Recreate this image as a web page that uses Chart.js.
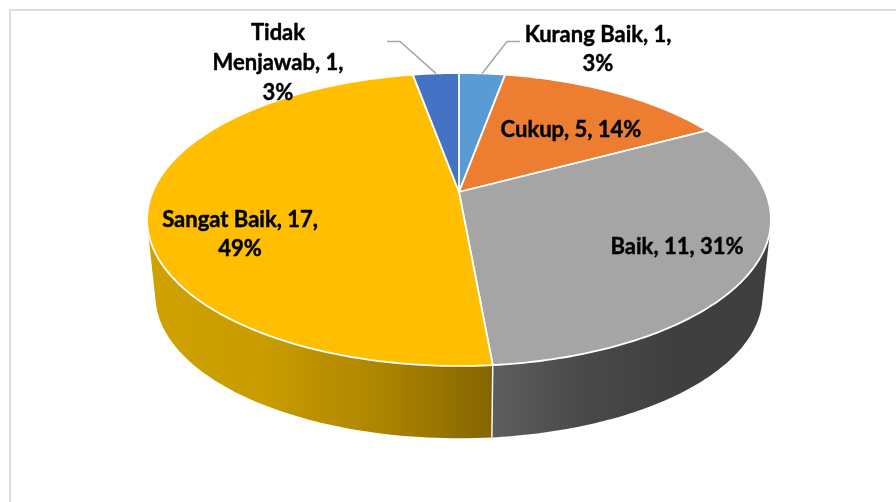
<!DOCTYPE html>
<html>
<head>
<meta charset="utf-8">
<title>Pie</title>
<script src="https://cdn.jsdelivr.net/npm/chart.js@4/dist/chart.umd.js"></script>
<style>
  html, body { margin: 0; padding: 0; background: #fff; }
  canvas { display: block; }
</style>
</head>
<body>
<canvas id="pie" width="896" height="502"></canvas>
<script>
const categories = ['Kurang Baik', 'Cukup', 'Baik', 'Sangat Baik', 'Tidak Menjawab'];
const values = [1, 5, 11, 17, 1];
const percents = [3, 14, 31, 49, 3];
const colours = ['#5B9BD5', '#ED7D31', '#A5A5A5', '#FFBE00', '#4472C4'];

// wall shading, left to right, only the two slices at the front show
const wallColours = {
  2: ['#5e5e5e', '#494949', '#3f3f3f', '#3f3f3f'],
  3: ['#d0a200', '#c99c00', '#ae8600', '#866500']
};

// how each label wraps and where it sits [centre x, first line y, line height]
const labelLines = [
  i => [`${categories[i]}, ${values[i]},`, `${percents[i]}%`],
  i => [`${categories[i]}, ${values[i]}, ${percents[i]}%`],
  i => [`${categories[i]}, ${values[i]}, ${percents[i]}%`],
  i => [`${categories[i]}, ${values[i]},`, `${percents[i]}%`],
  i => [...categories[i].split(' ').map((w, n) => n ? `${w}, ${values[i]},` : w), `${percents[i]}%`]
];
const labelPos = [[598, 35, 29], [571, 129.5, 29], [677, 246.5, 29], [240, 220, 29], [278, 33, 30]];

// tilt of the pie
const kx = 306.4 / 192, ky = 141.3 / 192, persp = 0.1877;
const wallDrop = 77, wallScale = 0.973;

function rim(arc, angle, scale, drop) {
  const r = arc.outerRadius * scale;
  const u = Math.cos(angle), v = -Math.sin(angle);
  const w = 1 + persp * v;
  return { x: arc.x + r * kx * u / w, y: arc.y + drop - r * ky * v / w };
}

function midAngle(arc) {
  return (arc.startAngle + arc.endAngle) / 2;
}

function drawWall(ctx, arc, stops, x0, x1) {
  const steps = 140;
  const a0 = arc.startAngle, a1 = arc.endAngle;
  const g = ctx.createLinearGradient(x0, 0, x1, 0);
  stops.forEach((c, i) => g.addColorStop(i / (stops.length - 1), c));
  ctx.beginPath();
  for (let i = 0; i < steps; i++) {
    const b0 = a0 + (a1 - a0) * i / steps, b1 = a0 + (a1 - a0) * (i + 1) / steps;
    const quad = [rim(arc, b0, 1, 0), rim(arc, b1, 1, 0), rim(arc, b1, wallScale, wallDrop), rim(arc, b0, wallScale, wallDrop)];
    // same winding for all so the strips join up in one fill
    let area = 0;
    quad.forEach((p, n) => {
      const q = quad[(n + 1) % 4];
      area += p.x * q.y - q.x * p.y;
    });
    if (area < 0) quad.reverse();
    quad.forEach((p, n) => n ? ctx.lineTo(p.x, p.y) : ctx.moveTo(p.x, p.y));
    ctx.closePath();
  }
  ctx.fillStyle = g;
  ctx.fill('nonzero');
}

function drawTop(ctx, arc, colour) {
  const steps = 120;
  ctx.beginPath();
  ctx.moveTo(arc.x, arc.y);
  for (let i = 0; i <= steps; i++) {
    const p = rim(arc, arc.startAngle + (arc.endAngle - arc.startAngle) * i / steps, 1, 0);
    ctx.lineTo(p.x, p.y);
  }
  ctx.closePath();
  ctx.fillStyle = colour;
  ctx.fill();
  ctx.strokeStyle = '#ffffff';
  ctx.lineWidth = 1.8;
  ctx.lineJoin = 'round';
  ctx.stroke();
}

const tiltedPie = {
  id: 'tiltedPie',
  beforeDraw(chart) {
    const ctx = chart.ctx;
    ctx.save();
    ctx.fillStyle = '#ffffff';
    ctx.fillRect(0, 0, chart.width, chart.height);
    ctx.strokeStyle = '#dddddd';
    ctx.lineWidth = 2;
    ctx.beginPath();
    ctx.moveTo(10, chart.height);
    ctx.lineTo(10, 10);
    ctx.lineTo(chart.width, 10);
    ctx.stroke();
    ctx.restore();
  },
  beforeDatasetsDraw(chart) {
    const ctx = chart.ctx;
    const arcs = chart.getDatasetMeta(0).data;
    const fills = chart.data.datasets[0].backgroundColor;
    ctx.save();
    drawWall(ctx, arcs[3], wallColours[3], 147, 491);
    drawWall(ctx, arcs[2], wallColours[2], 491, 771);
    // white edge between the two walls
    const seamTop = rim(arcs[2], arcs[2].endAngle, 1, 0);
    const seamEnd = rim(arcs[2], arcs[2].endAngle, wallScale, wallDrop);
    ctx.strokeStyle = '#ffffff';
    ctx.lineWidth = 1.4;
    ctx.beginPath();
    ctx.moveTo(seamTop.x, seamTop.y);
    ctx.lineTo(seamEnd.x, seamEnd.y);
    ctx.stroke();
    arcs.forEach((arc, i) => drawTop(ctx, arc, fills[i]));
    ctx.restore();
    return false;
  },
  afterDraw(chart) {
    const ctx = chart.ctx;
    const arcs = chart.getDatasetMeta(0).data;
    ctx.save();
    // leader lines for the two thin slices
    ctx.strokeStyle = '#a6a6a6';
    ctx.lineWidth = 1.5;
    [[0, 520, 507], [4, 387, 400]].forEach(([i, x0, x1]) => {
      const end = rim(arcs[i], midAngle(arcs[i]), 1, 0);
      ctx.beginPath();
      ctx.moveTo(x0, 41.5);
      ctx.lineTo(x1, 41.5);
      ctx.lineTo(end.x, end.y);
      ctx.stroke();
    });
    ctx.fillStyle = '#000000';
    ctx.strokeStyle = '#000000';
    ctx.lineWidth = 0.45;
    ctx.font = 'bold 22px Lato, "Open Sans", sans-serif';
    ctx.textAlign = 'center';
    ctx.textBaseline = 'middle';
    labelLines.forEach((wrap, i) => {
      const [x, y, lh] = labelPos[i];
      wrap(i).forEach((t, n) => {
        ctx.fillText(t, x, y + n * lh);
        ctx.strokeText(t, x, y + n * lh);
      });
    });
    ctx.restore();
  }
};

new Chart(document.getElementById('pie'), {
  type: 'pie',
  data: {
    labels: categories,
    datasets: [{ data: values, backgroundColor: colours, borderWidth: 0 }]
  },
  options: {
    responsive: false,
    animation: false,
    layout: { padding: { left: 22, bottom: 118 } },
    plugins: { legend: { display: false }, tooltip: { enabled: false } }
  },
  plugins: [tiltedPie]
});
</script>
</body>
</html>
